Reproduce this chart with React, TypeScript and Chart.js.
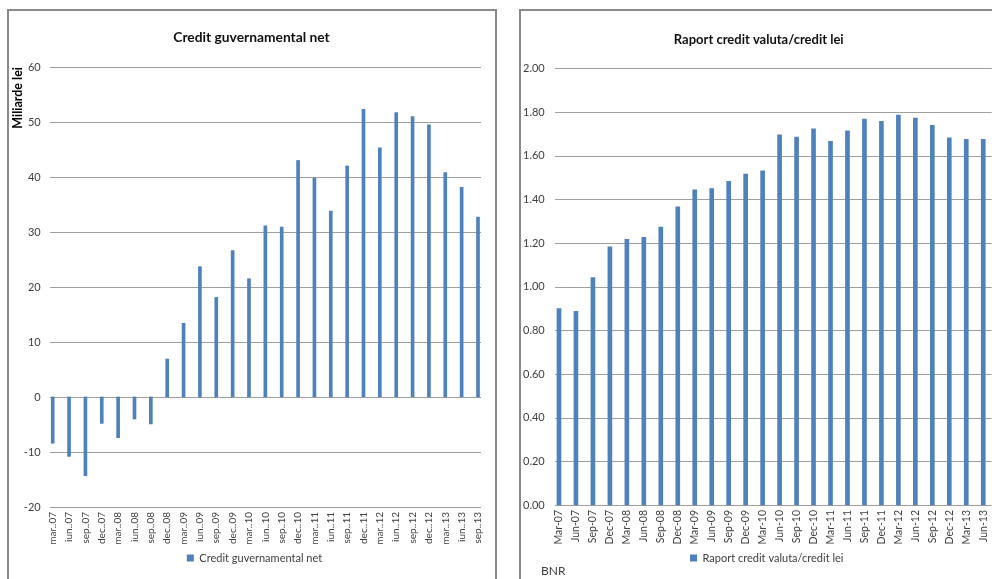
import React, { useEffect, useRef } from 'react';
import { Chart, registerables } from 'chart.js';
Chart.register(...registerables);

// ---- data ----
const leftTitle = 'Credit guvernamental net';
const leftAxisTitle = 'Miliarde lei';
const leftSeriesName = 'Credit guvernamental net';
const leftLabels = ['mar..07','iun..07','sep..07','dec..07','mar..08','iun..08','sep..08','dec..08','mar..09','iun..09','sep..09','dec..09','mar..10','iun..10','sep..10','dec..10','mar..11','iun..11','sep..11','dec..11','mar..12','iun..12','sep..12','dec..12','mar..13','iun..13','sep..13'];
const leftValues = [-8.4,-10.8,-14.3,-4.8,-7.4,-4.0,-4.9,6.9,13.4,23.7,18.1,26.6,21.5,31.1,30.9,43.0,39.8,33.8,42.0,52.3,45.3,51.7,51.0,49.5,40.8,38.1,32.7];

const rightTitle = 'Raport credit valuta/credit lei';
const rightSeriesName = 'Raport credit valuta/credit lei';
const rightLabels = ['Mar-07','Jun-07','Sep-07','Dec-07','Mar-08','Jun-08','Sep-08','Dec-08','Mar-09','Jun-09','Sep-09','Dec-09','Mar-10','Jun-10','Sep-10','Dec-10','Mar-11','Jun-11','Sep-11','Dec-11','Mar-12','Jun-12','Sep-12','Dec-12','Mar-13','Jun-13'];
const rightValues = [0.90,0.887,1.041,1.182,1.217,1.226,1.273,1.366,1.443,1.449,1.482,1.516,1.530,1.695,1.685,1.723,1.666,1.714,1.768,1.757,1.786,1.772,1.739,1.681,1.675,1.675];
const sourceNote = 'BNR';

// ---- styles ----
const BAR = '#4f81bd';
const TICK = '#404040';
const GRID = '#a0a0a0';
const FONT = 'Lato, "Open Sans", sans-serif';

const gridPlugin = {
  id: 'extGrid',
  beforeDatasetsDraw(chart: any, _a: any, opts: any) {
    const { ctx, chartArea, scales } = chart;
    const y = scales.y;
    ctx.save();
    ctx.strokeStyle = opts.color;
    ctx.lineWidth = 1;
    y.ticks.forEach((t: any) => {
      const py = Math.round(y.getPixelForValue(t.value)) + 0.5;
      ctx.beginPath();
      ctx.moveTo(chartArea.left - opts.extL, py);
      ctx.lineTo(chartArea.right + opts.extR, py);
      ctx.stroke();
    });
    ctx.restore();
  },
};

const shiftPlugin = {
  id: 'shiftBoxes',
  afterLayout(chart: any, _a: any, opts: any) {
    if (chart.legend) {
      chart.legend.left += opts.legend || 0;
      chart.legend.right += opts.legend || 0;
    }
    if (chart.titleBlock) {
      chart.titleBlock.left += opts.title || 0;
      chart.titleBlock.right += opts.title || 0;
    }
  },
};

export default function App() {
  const leftRef = useRef<HTMLCanvasElement>(null);
  const rightRef = useRef<HTMLCanvasElement>(null);

  useEffect(() => {
    Chart.defaults.font.family = FONT;
    const left = new Chart(leftRef.current as HTMLCanvasElement, {
      type: 'bar',
      data: {
        labels: leftLabels,
        datasets: [{ label: leftSeriesName, data: leftValues, backgroundColor: BAR, barThickness: 3, clip: false } as any],
      },
      plugins: [gridPlugin, shiftPlugin],
      options: {
        animation: false,
        responsive: false,
        layout: { padding: { left: 0, right: 11, top: 0, bottom: 5.5 } },
        scales: {
          x: {
            offset: false,
            grid: { display: false, drawTicks: false },
            border: { display: false },
            ticks: { autoSkip: false, maxRotation: 90, minRotation: 90, padding: 5, color: TICK, font: { size: 10 } },
            afterFit: (s: any) => { s.height = 40.5; },
          },
          y: {
            min: -20,
            max: 60,
            ticks: { stepSize: 10, padding: 12, color: TICK, font: { size: 11 } },
            grid: { display: false, drawTicks: false },
            border: { display: false },
            title: { display: true, text: leftAxisTitle, align: 'end', color: '#000', font: { size: 12.5, weight: 'bold' }, padding: { top: 1.5, bottom: 0 } },
            afterFit: (s: any) => { s.width = 43.7; },
          },
        },
        plugins: {
          title: { display: true, text: leftTitle, color: '#111', font: { size: 13.8, weight: 'bold' }, padding: { top: 18.7, bottom: 20.7 } },
          legend: { position: 'bottom', labels: { boxWidth: 7, boxHeight: 7, padding: 5, color: TICK, font: { size: 11 } } },
          tooltip: { enabled: false },
          extGrid: { color: GRID, extL: 2.7, extR: 3 },
          shiftBoxes: { legend: 8, title: 5 },
        } as any,
      } as any,
    });

    const right = new Chart(rightRef.current as HTMLCanvasElement, {
      type: 'bar',
      data: {
        labels: rightLabels,
        datasets: [{ label: rightSeriesName, data: rightValues, backgroundColor: BAR, barThickness: 4, clip: false } as any],
      },
      plugins: [gridPlugin, shiftPlugin],
      options: {
        animation: false,
        responsive: false,
        layout: { padding: { left: 2, right: 8.5, top: 0, bottom: 5.5 } },
        scales: {
          x: {
            offset: true,
            grid: { display: false, drawTicks: false },
            border: { display: false },
            ticks: { autoSkip: false, maxRotation: 90, minRotation: 90, padding: 5, color: TICK, font: { size: 10.5 } },
            afterFit: (s: any) => { s.height = 42.5; },
          },
          y: {
            min: 0,
            max: 2,
            ticks: { stepSize: 0.2, crossAlign: 'far', color: TICK, font: { size: 11 }, callback: (v: any) => Number(v).toFixed(2) },
            grid: { display: false, drawTicks: false },
            border: { display: false },
            afterFit: (s: any) => { s.width = 27.5; },
          },
        },
        plugins: {
          title: { display: true, text: rightTitle, color: '#111', font: { size: 13, weight: 'bold' }, padding: { top: 21.2, bottom: 20.5 } },
          legend: { position: 'bottom', labels: { boxWidth: 7, boxHeight: 7, padding: 5, color: TICK, font: { size: 11 } } },
          tooltip: { enabled: false },
          extGrid: { color: GRID, extL: -4.5, extR: 0 },
          shiftBoxes: { legend: 9, title: 1 },
        } as any,
      } as any,
    });

    return () => {
      left.destroy();
      right.destroy();
    };
  }, []);

  return (
    <div style={{ position: 'fixed', left: 0, top: 0, width: 992, height: 579, overflow: 'hidden', background: '#fff' }}>
      <div style={{ position: 'absolute', left: 7, top: 9, width: 490, height: 620, border: '2px solid #8a8a8a', boxSizing: 'border-box' }} />
      <div style={{ position: 'absolute', left: 519, top: 9, width: 600, height: 620, border: '2px solid #8a8a8a', boxSizing: 'border-box' }} />
      <canvas ref={leftRef} width={486} height={568} style={{ position: 'absolute', left: 9, top: 11, width: 486, height: 568 }} />
      <canvas ref={rightRef} width={480} height={568} style={{ position: 'absolute', left: 521, top: 11, width: 480, height: 568 }} />
      <div style={{ position: 'absolute', left: 541, top: 564, fontFamily: FONT, fontSize: 12, lineHeight: '14px', color: TICK }}>{sourceNote}</div>
    </div>
  );
}
